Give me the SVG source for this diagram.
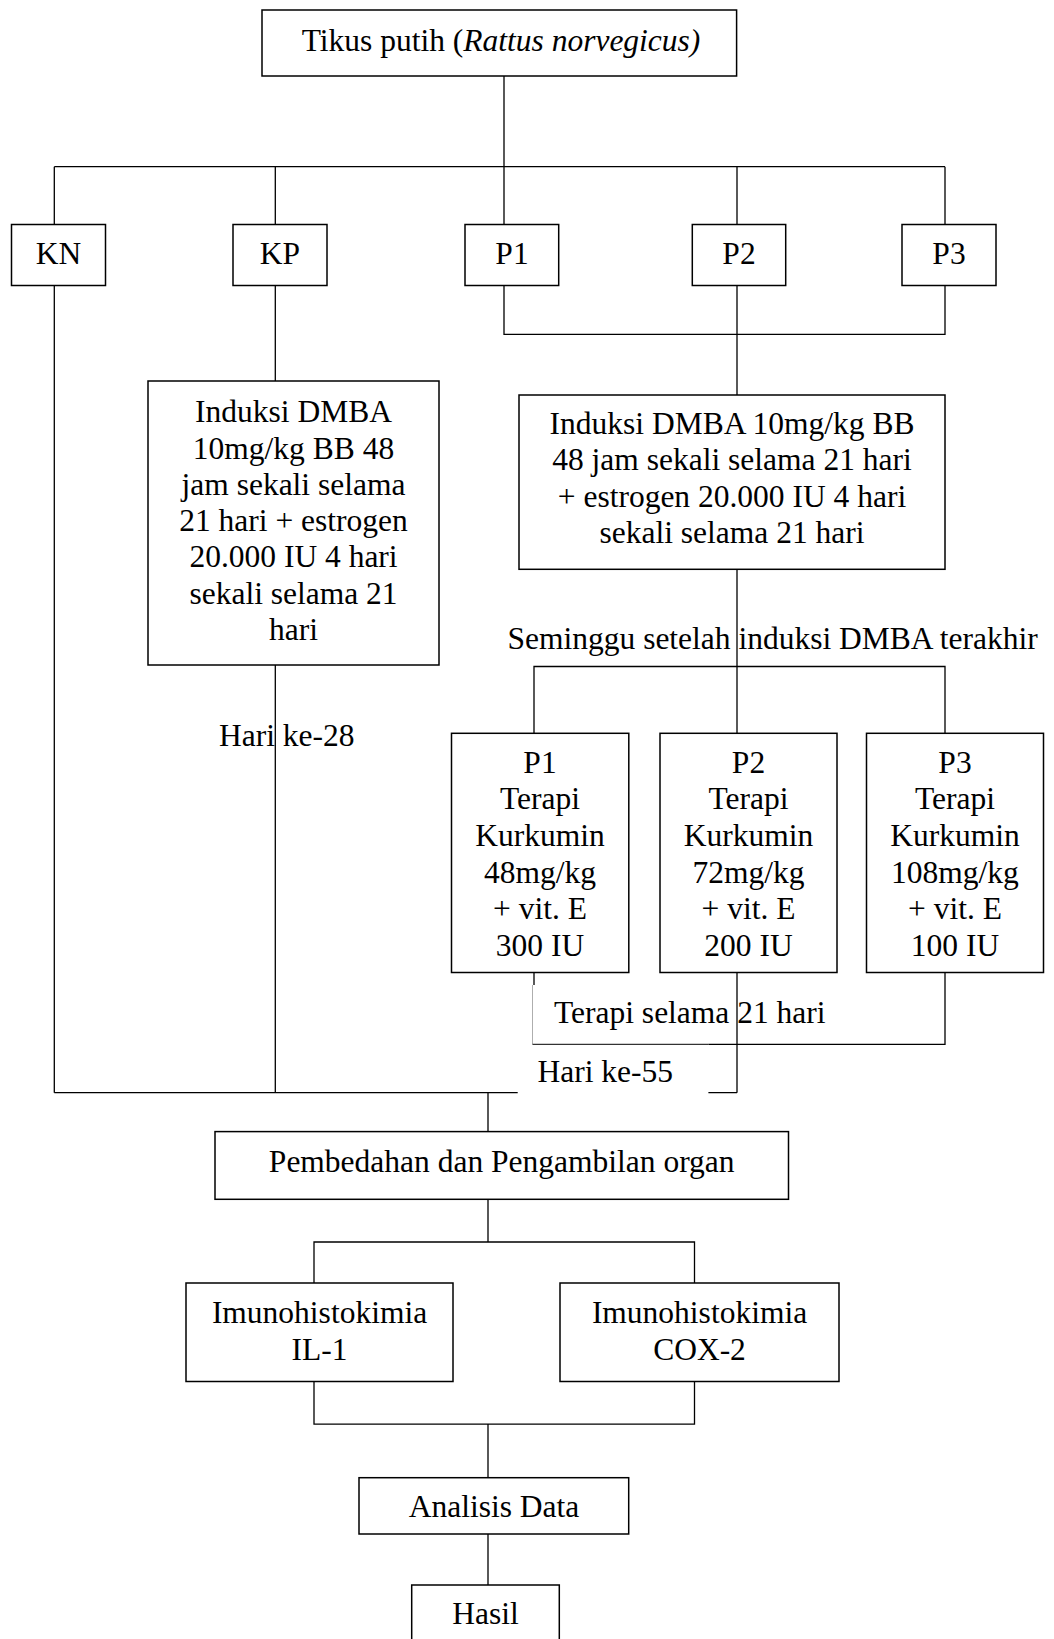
<svg xmlns="http://www.w3.org/2000/svg" width="1054" height="1639" viewBox="0 0 1054 1639">
<style>
.box{fill:#fff;stroke:#000;stroke-width:1.5}
.ln{fill:none;stroke:#000;stroke-width:1.3}
.thin{fill:none;stroke:#000;stroke-width:1}
.gray{fill:none;stroke:#999;stroke-width:0.8}
text{font-family:"Liberation Serif","Times New Roman",serif;font-size:31.5px;fill:#000}
.c{text-anchor:middle}
</style>
<rect width="1054" height="1639" fill="#fff"/>
<g id="labels">
<text x="219" y="745.7">Hari ke-28</text>
<text x="507.5" y="649.3">Seminggu setelah induksi DMBA terakhir</text>
<text x="554" y="1023.3">Terapi selama 21 hari</text>
<text x="537.5" y="1081.7">Hari ke-55</text>
</g>
<g id="connectors">
<path class="ln" d="M504 76V166.7M54.3 166.7H945M54.3 166.7V224.5M275.3 166.7V224.5M504 166.7V224.5M737 166.7V224.5M945 166.7V224.5"/>
<path class="ln" d="M54.3 285.5V1092.7M275.3 285.5V381M275.3 665V1092.7"/>
<path class="ln" d="M504 285.5V334.3H945V285.5M737 285.5V395"/>
<path class="ln" d="M737 569.3V733.3M534 733.3V666.5H945V733.3"/>
<path class="ln" d="M534 972.5V985M737 972.5V1092.7M945 972.5V1044.3H708.4"/>
<path class="gray" d="M532.5 985V1044.3"/>
<path class="thin" d="M532.5 1044.3H708.4"/>
<path class="ln" d="M54.3 1092.7H517.7M708.4 1092.7H737M488 1092.7V1131.6"/>
<path class="ln" d="M488 1199.3V1242M314 1283V1242H694.5V1283"/>
<path class="ln" d="M314 1381.5V1424.2H694.5V1381.5M488 1424.2V1477.7M488 1534V1585"/>
</g>
<g id="node-tikus"><rect class="box" x="262" y="10" width="474.6" height="66"/><text class="c" x="501" y="51">Tikus putih (<tspan font-style="italic">Rattus norvegicus)</tspan></text></g>
<g id="node-kn"><rect class="box" x="11.5" y="224.5" width="94" height="61"/><text class="c" x="58.5" y="263.5">KN</text></g>
<g id="node-kp"><rect class="box" x="233" y="224.5" width="94" height="61"/><text class="c" x="280" y="263.5">KP</text></g>
<g id="node-p1"><rect class="box" x="465" y="224.5" width="93.7" height="61"/><text class="c" x="512" y="263.5">P1</text></g>
<g id="node-p2"><rect class="box" x="692.3" y="224.5" width="93.4" height="61"/><text class="c" x="739" y="263.5">P2</text></g>
<g id="node-p3"><rect class="box" x="902" y="224.5" width="94" height="61"/><text class="c" x="949" y="263.5">P3</text></g>
<g id="node-kp-dmba"><rect class="box" x="148" y="381" width="291" height="284"/>
<text class="c" x="293.5" y="422.3">Induksi DMBA</text>
<text class="c" x="293.5" y="458.5">10mg/kg BB 48</text>
<text class="c" x="293.5" y="494.8">jam sekali selama</text>
<text class="c" x="293.5" y="531">21 hari + estrogen</text>
<text class="c" x="293.5" y="567.3">20.000 IU 4 hari</text>
<text class="c" x="293.5" y="603.5">sekali selama 21</text>
<text class="c" x="293.5" y="639.8">hari</text></g>
<g id="node-p-dmba"><rect class="box" x="519" y="395" width="426" height="174.3"/>
<text class="c" x="732" y="434">Induksi DMBA 10mg/kg BB</text>
<text class="c" x="732" y="470.3">48 jam sekali selama 21 hari</text>
<text class="c" x="732" y="506.7">+ estrogen 20.000 IU 4 hari</text>
<text class="c" x="732" y="543">sekali selama 21 hari</text></g>
<g id="node-p1-terapi"><rect class="box" x="451.5" y="733.3" width="177.3" height="239.2"/>
<text class="c" x="540" y="772.7">P1</text><text class="c" x="540" y="809.3">Terapi</text><text class="c" x="540" y="846">Kurkumin</text><text class="c" x="540" y="882.7">48mg/kg</text><text class="c" x="540" y="919.3">+ vit. E</text><text class="c" x="540" y="956">300 IU</text></g>
<g id="node-p2-terapi"><rect class="box" x="660" y="733.3" width="177" height="239.2"/>
<text class="c" x="748.5" y="772.7">P2</text><text class="c" x="748.5" y="809.3">Terapi</text><text class="c" x="748.5" y="846">Kurkumin</text><text class="c" x="748.5" y="882.7">72mg/kg</text><text class="c" x="748.5" y="919.3">+ vit. E</text><text class="c" x="748.5" y="956">200 IU</text></g>
<g id="node-p3-terapi"><rect class="box" x="866.5" y="733.3" width="177" height="239.2"/>
<text class="c" x="955" y="772.7">P3</text><text class="c" x="955" y="809.3">Terapi</text><text class="c" x="955" y="846">Kurkumin</text><text class="c" x="955" y="882.7">108mg/kg</text><text class="c" x="955" y="919.3">+ vit. E</text><text class="c" x="955" y="956">100 IU</text></g>
<g id="node-pembedahan"><rect class="box" x="215" y="1131.6" width="573.5" height="67.7"/><text class="c" x="501.7" y="1171.5">Pembedahan dan Pengambilan organ</text></g>
<g id="node-il1"><rect class="box" x="186" y="1283" width="267" height="98.5"/><text class="c" x="319.5" y="1322.8">Imunohistokimia</text><text class="c" x="319.5" y="1360.2">IL-1</text></g>
<g id="node-cox2"><rect class="box" x="560" y="1283" width="279" height="98.5"/><text class="c" x="699.5" y="1322.8">Imunohistokimia</text><text class="c" x="699.5" y="1360.2">COX-2</text></g>
<g id="node-analisis"><rect class="box" x="359" y="1477.7" width="269.7" height="56.3"/><text class="c" x="494" y="1517.3">Analisis Data</text></g>
<g id="node-hasil"><rect class="box" x="411.7" y="1585" width="147.6" height="70"/><text class="c" x="485.5" y="1624.3">Hasil</text></g>
</svg>
